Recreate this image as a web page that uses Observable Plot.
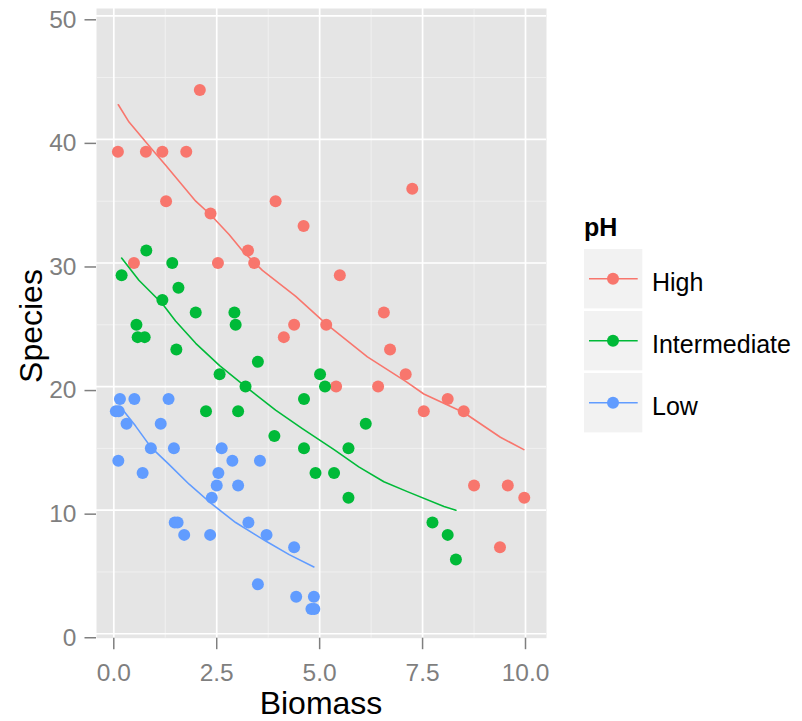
<!DOCTYPE html>
<html>
<head>
<meta charset="utf-8">
<script src="https://cdn.jsdelivr.net/npm/d3@7"></script>
<script src="https://cdn.jsdelivr.net/npm/@observablehq/plot@0.6"></script>
<style>
  html, body { margin: 0; padding: 0; background: #ffffff; }
  #chart { position: relative; width: 802px; height: 721px; }
</style>
</head>
<body>
<div id="chart"></div>
<script>
// ---- Data ----
const phLevels = ["High", "Intermediate", "Low"];
const phColors = ["#F8766D", "#00BA38", "#619CFF"];

const highBiomass = [0.10, 0.49, 0.78, 1.18, 1.27, 1.76, 2.09, 2.35, 2.53, 3.26, 3.41, 3.93, 4.13, 4.38, 4.61, 5.16, 5.40, 5.49, 6.42, 6.56, 6.71, 7.09, 7.25, 7.53, 8.11, 8.50, 8.75, 9.38, 9.57, 9.97];
const highSpecies = [39, 30, 39, 39, 35, 39, 44, 34, 30, 31, 30, 35, 24, 25, 33, 25, 20, 29, 20, 26, 23, 21, 36, 18, 19, 18, 12, 7, 12, 11];

const interBiomass = [0.19, 0.55, 0.58, 0.75, 0.79, 1.18, 1.42, 1.52, 1.57, 1.99, 2.24, 2.57, 2.93, 2.96, 3.02, 3.20, 3.50, 3.90, 4.62, 4.62, 4.90, 5.01, 5.13, 5.35, 5.70, 5.70, 6.12, 7.74, 8.11, 8.31];
const interSpecies = [29, 25, 24, 24, 31, 27, 30, 23, 28, 26, 18, 21, 26, 25, 18, 20, 22, 16, 19, 15, 13, 21, 20, 13, 15, 11, 17, 9, 8, 6];

const lowBiomass = [0.05, 0.12, 0.15, 0.11, 0.31, 0.50, 0.70, 0.90, 1.14, 1.33, 1.46, 1.48, 1.55, 1.71, 2.34, 2.38, 2.50, 2.54, 2.62, 2.88, 3.02, 3.27, 3.50, 3.55, 3.71, 4.38, 4.43, 4.86, 4.80, 4.87];
const lowSpecies = [18, 18, 19, 14, 17, 19, 13, 15, 17, 19, 15, 9, 9, 8, 8, 11, 12, 13, 15, 14, 12, 9, 4, 14, 8, 7, 3, 3, 2, 2];

// fitted curves
const highFitX = [0.11, 0.37, 0.90, 1.26, 1.99, 2.35, 2.80, 3.12, 3.61, 4.42, 5.15, 6.16, 7.10, 7.53, 8.50, 9.39, 9.96];
const highFitY = [42.8, 41.4, 39.3, 37.9, 35.0, 33.9, 32.3, 31.0, 29.4, 27.3, 25.1, 22.4, 20.4, 19.4, 17.9, 15.9, 14.9];
const interFitX = [0.19, 0.61, 1.18, 1.50, 1.99, 2.57, 3.20, 3.93, 4.58, 5.35, 5.95, 6.56, 7.13, 8.02, 8.31];
const interFitY = [30.4, 28.6, 26.7, 25.3, 23.5, 21.7, 20.0, 18.1, 16.6, 14.9, 13.5, 12.3, 11.5, 10.3, 10.0];
const lowFitX = [0.15, 0.53, 0.90, 1.34, 1.83, 2.38, 2.96, 3.69, 4.26, 4.86];
const lowFitY = [18.4, 16.8, 15.1, 13.7, 12.1, 10.5, 9.0, 7.5, 6.4, 5.4];

const xTicks = [0, 2.5, 5, 7.5, 10];
const yTicks = [0, 10, 20, 30, 40, 50];
const xMinor = [1.25, 3.75, 6.25, 8.75];
const yMinor = [5, 15, 25, 35, 45];

const xTitle = "Biomass";
const yTitle = "Species";
const legendTitle = "pH";

// ---- Build tables ----
const groups = [
  {ph: "High", bx: highBiomass, sy: highSpecies, fx: highFitX, fy: highFitY},
  {ph: "Intermediate", bx: interBiomass, sy: interSpecies, fx: interFitX, fy: interFitY},
  {ph: "Low", bx: lowBiomass, sy: lowSpecies, fx: lowFitX, fy: lowFitY}
];
const points = groups.flatMap(g => g.bx.map((b, i) => ({Biomass: b, Species: g.sy[i], pH: g.ph})));
const fits = groups.flatMap(g => g.fx.map((b, i) => ({Biomass: b, Species: g.fy[i], pH: g.ph})));

const FONT = "'Liberation Sans', Arial, Helvetica, sans-serif";
const GREY = "#7F7F7F";

const plot = Plot.plot({
  width: 802,
  height: 721,
  marginTop: 8,
  marginBottom: 83.3,
  marginLeft: 96,
  marginRight: 256,
  style: {fontFamily: FONT, background: "transparent"},
  x: {domain: [-0.42, 10.51]},
  y: {domain: [-0.36, 50.59]},
  color: {domain: phLevels, range: phColors},
  marks: [
    Plot.frame({fill: "#E5E5E5", stroke: null}),
    Plot.gridX(xMinor, {stroke: "#F2F2F2", strokeOpacity: 1, strokeWidth: 0.9}),
    Plot.gridY(yMinor, {stroke: "#F2F2F2", strokeOpacity: 1, strokeWidth: 0.9}),
    Plot.gridX(xTicks, {stroke: "#FFFFFF", strokeOpacity: 1, strokeWidth: 1.7}),
    Plot.gridY(yTicks, {stroke: "#FFFFFF", strokeOpacity: 1, strokeWidth: 1.7}),
    Plot.axisX({ticks: xTicks, tickFormat: d3.format(".1f"), tickSize: 11.5, tickPadding: 14,
      fontSize: 24.5, color: GREY, strokeWidth: 1.5, label: null}),
    Plot.axisY({ticks: yTicks, tickFormat: d => String(d), tickSize: 11.5, tickPadding: 8.5,
      fontSize: 24.5, color: GREY, strokeWidth: 1.5, dy: 4, label: null}),
    Plot.dot(points, {x: "Biomass", y: "Species", fill: "pH", r: 6, stroke: null}),
    Plot.line(fits, {x: "Biomass", y: "Species", stroke: "pH", z: "pH", strokeWidth: 1.6, curve: "linear"})
  ]
});

document.getElementById("chart").appendChild(plot);

// ---- Axis titles and legend (real text) ----
const svg = d3.select(plot);
svg.append("text")
  .attr("x", 321).attr("y", 714)
  .attr("text-anchor", "middle")
  .attr("font-family", FONT).attr("font-size", 32).attr("fill", "#000")
  .text(xTitle);
svg.append("text")
  .attr("transform", "translate(41.7,326) rotate(-90)")
  .attr("text-anchor", "middle")
  .attr("font-family", FONT).attr("font-size", 32).attr("fill", "#000")
  .text(yTitle);

const lg = svg.append("g").attr("font-family", FONT).attr("text-anchor", "start");
lg.append("text").attr("x", 584).attr("y", 236)
  .attr("text-anchor", "start")
  .attr("font-size", 25).attr("font-weight", "bold").attr("fill", "#000")
  .text(legendTitle);
const keyTops = [249, 311, 373];
phLevels.forEach((lvl, i) => {
  const top = keyTops[i];
  const cy = top + 29.7;
  const col = phColors[i];
  lg.append("rect").attr("x", 584).attr("y", top).attr("width", 58.3).attr("height", 59.4).attr("fill", "#F2F2F2");
  lg.append("line").attr("x1", 589).attr("x2", 637.7).attr("y1", cy).attr("y2", cy)
    .attr("stroke", col).attr("stroke-width", 1.6);
  lg.append("circle").attr("cx", 613).attr("cy", cy).attr("r", 6).attr("fill", col);
  lg.append("text").attr("x", 652).attr("y", cy + 12.5)
    .attr("text-anchor", "start")
    .attr("font-size", 25).attr("fill", "#000").text(lvl);
});
</script>
</body>
</html>
